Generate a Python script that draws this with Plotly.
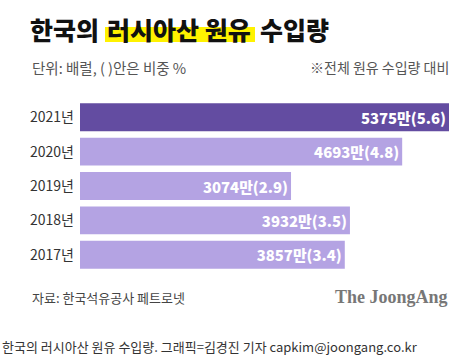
import plotly.graph_objects as go

years = ["2021년", "2020년", "2019년", "2018년", "2017년"]
volumes = [5375, 4693, 3074, 3932, 3857]  # 만 배럴
shares = [5.6, 4.8, 2.9, 3.5, 3.4]  # %
colors = ["#634ca1", "#b4a3e3", "#b4a3e3", "#b4a3e3", "#b4a3e3"]
title_parts = ["한국의", "러시아산 원유", "수입량"]

W, H = 461, 358
L, R, T, B = 80, 12, 100, 86
PW, PH = W - L - R, H - T - B

def px(x):
    return (x - L) / PW

def py(y):
    return (H - B - y) / PH

FONT = "Noto Sans CJK KR"

labels = [f"{v}만({s})" for v, s in zip(volumes, shares)]

fig = go.Figure(go.Bar(
    x=volumes, y=years, orientation="h",
    marker=dict(color=colors, line=dict(width=0)),
    width=0.81,
    text=labels, textposition="inside", insidetextanchor="end",
    textfont=dict(family=FONT, size=17, color="white", weight=900),
    cliponaxis=False, hoverinfo="skip",
))

title_font = dict(family=FONT, size=25, color="#111111", weight=900)
title_x = [28, 105, 258]
title_anns = [dict(text=t, xref="paper", yref="paper", x=px(x0), y=py(29.5),
                   xanchor="left", yanchor="middle", showarrow=False, font=title_font)
              for t, x0 in zip(title_parts, title_x)]

fig.update_layout(
    width=W, height=H,
    margin=dict(l=L, r=R, t=T, b=B),
    paper_bgcolor="white", plot_bgcolor="white",
    showlegend=False,
    font=dict(family=FONT),
    xaxis=dict(range=[0, max(volumes)], visible=False, fixedrange=True),
    yaxis=dict(categoryorder="array", categoryarray=years, autorange="reversed",
               range=[4.5, -0.5], fixedrange=True,
               showgrid=False, showline=False, zeroline=False, ticks="",
               ticklabelstandoff=5,
               tickfont=dict(family=FONT, size=14, color="#333333")),
    shapes=[dict(type="rect", xref="paper", yref="paper",
                 x0=px(105), x1=px(255), y0=py(42), y1=py(27),
                 fillcolor="#fff200", line=dict(width=0), layer="below")],
    annotations=title_anns + [
        dict(text="단위: 배럴, ( )안은 비중 %", xref="paper", yref="paper",
             x=px(30), y=py(67), xanchor="left", yanchor="middle", showarrow=False,
             font=dict(family=FONT, size=14.5, color="#555555")),
        dict(text="※전체 원유 수입량 대비", xref="paper", yref="paper",
             x=px(451), y=py(67), xanchor="right", yanchor="middle", showarrow=False,
             font=dict(family=FONT, size=14, color="#555555")),
        dict(text="자료: 한국석유공사 페트로넷", xref="paper", yref="paper",
             x=px(30), y=py(297), xanchor="left", yanchor="middle", showarrow=False,
             font=dict(family=FONT, size=13, color="#444444")),
        dict(text="The JoongAng", xref="paper", yref="paper",
             x=px(450), y=py(297), xanchor="right", yanchor="middle", showarrow=False,
             font=dict(family="Liberation Serif", size=18, color="#777777", weight=700)),
        dict(text="한국의 러시아산 원유 수입량. 그래픽=김경진 기자 capkim@joongang.co.kr",
             xref="paper", yref="paper",
             x=px(0), y=py(346), xanchor="left", yanchor="middle", showarrow=False,
             font=dict(family=FONT, size=13, color="#333333")),
    ],
)

fig.write_html("out.html", config={"displayModeBar": False},
               post_script="document.body.style.margin='0';document.body.style.overflow='hidden';")
